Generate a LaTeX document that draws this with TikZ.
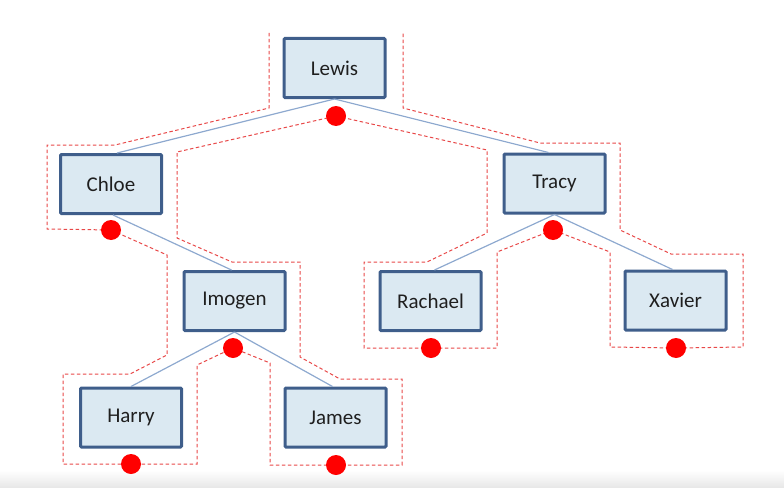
\documentclass[tikz,border=0pt]{standalone}
\usepackage{fontspec}
\setmainfont{Carlito}
\usetikzlibrary{calc}
\definecolor{boxborder}{HTML}{3F5E8B}
\definecolor{boxfill}{HTML}{DBE9F2}
\definecolor{edgeblue}{HTML}{8EA9CF}
\definecolor{contour}{HTML}{E84848}
\definecolor{dotred}{HTML}{FF0000}
\begin{document}
\begin{tikzpicture}[x=1pt,y=-1pt,
  person/.style={draw=boxborder,line width=3pt,rounded corners=1pt,fill=boxfill,minimum width=101pt,minimum height=59pt,inner sep=0pt,font=\fontsize{21}{25}\selectfont,text=black!88},
  treeedge/.style={draw=edgeblue,line width=1.2pt},
  tour/.style={draw=contour,line width=1pt,dash pattern=on 3.5pt off 2.5pt},
  visit/.style={circle,fill=dotred,minimum size=20pt,inner sep=0pt}]
\useasboundingbox (0,0) rectangle (784,487);
\shade[top color=white,bottom color=black!9] (0,470) rectangle (784,487);
% people
\node[person] (Lewis) at (334.5,68) {Lewis};
\node[person] (Chloe) at (111,184) {Chloe};
\node[person] (Tracy) at (554.5,183.5) {Tracy};
\node[person] (Imogen) at (234.5,301) {Imogen};
\node[person] (Rachael) at (430.5,301) {Rachael};
\node[person] (Xavier) at (675.5,300.5) {Xavier};
\node[person] (Harry) at (131,417.5) {Harry};
\node[person] (James) at (335.5,417.5) {James};
% tree edges
\draw[treeedge] (Lewis.south) -- ([xshift=6pt]Chloe.north);
\draw[treeedge] (Lewis.south) -- ([xshift=-6pt]Tracy.north);
\draw[treeedge] ([xshift=2pt]Chloe.south) -- ([xshift=-3pt]Imogen.north);
\draw[treeedge] (Imogen.south) -- (Harry.north);
\draw[treeedge] (Imogen.south) -- ([xshift=-3pt]James.north);
\draw[treeedge] (Tracy.south) -- ([xshift=4pt]Rachael.north);
\draw[treeedge] (Tracy.south) -- ([xshift=-3pt]Xavier.north);
% visit points
\coordinate (dLewis) at (336,116);
\coordinate (dChloe) at (111,230);
\coordinate (dTracy) at (553,230);
\coordinate (dImogen) at (233,348);
\coordinate (dRachael) at (431,348);
\coordinate (dXavier) at (676,348);
\coordinate (dHarry) at (131,464);
\coordinate (dJames) at (336,465);
% Euler tour contour
\draw[tour] (269,33) -- (269,108) -- (115,145) -- (47,145) -- (47,229) -- (dChloe)
  -- (167,255) -- (167,355) -- (130,374) -- (63,374) -- (63,464) -- (dHarry) -- (197,464)
  -- (197,365) -- (dImogen) -- (270,363) -- (270,465) -- (dJames) -- (402,465)
  -- (402,379) -- (340,379) -- (300,357) -- (300,262) -- (232,262) -- (177,238)
  -- (177,152) -- (dLewis) -- (487,150) -- (487,233) -- (427,262) -- (364,262)
  -- (364,348) -- (dRachael) -- (497,348) -- (497,252) -- (dTracy) -- (610,252)
  -- (610,347) -- (dXavier) -- (743,347) -- (743,254) -- (671,254) -- (620,230)
  -- (620,143) -- (540,143) -- (403,108) -- (403,33);
% dots
\foreach \d in {dLewis,dChloe,dTracy,dImogen,dRachael,dXavier,dHarry,dJames}
  \node[visit] (v\d) at (\d) {};
\end{tikzpicture}
\end{document}
